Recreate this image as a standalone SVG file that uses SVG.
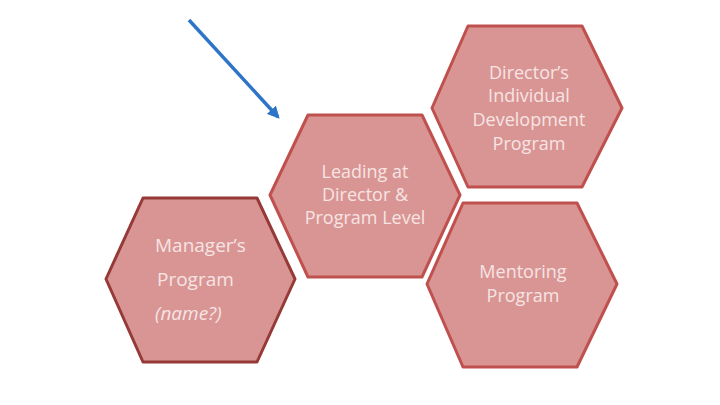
<svg xmlns="http://www.w3.org/2000/svg" width="720" height="405" viewBox="0 0 720 405">
<defs>
<marker id="ah" viewBox="0 0 10 10" refX="8" refY="5" markerWidth="3.5" markerHeight="3.5" orient="auto">
<path d="M0,0 L10,5 L0,10 z" fill="#2e75c9"/>
</marker>
<style>
.hex{fill:#d99594;stroke-width:3;stroke-linejoin:round}
.t{font-family:"Open Sans","Liberation Sans",sans-serif;font-size:18px;fill:#f6e4e3}
.m{font-size:19px}
.c{text-anchor:middle}
</style>
</defs>
<rect width="720" height="405" fill="#ffffff"/>
<g id="managers">
<polygon class="hex" stroke="#963a38" points="143,198 257,198 295,279 257,362 143,362 106,279"/>
<text class="t m" x="155" y="252">Manager’s</text>
<text class="t m" x="157" y="286">Program</text>
<text class="t m" x="155" y="320" font-style="italic">(name?)</text>
</g>
<g id="leading">
<polygon class="hex" stroke="#c0504d" points="308,115 422,115 460,195 422,277 308,277 270,195"/>
<text class="t c" x="365" y="178">Leading at</text>
<text class="t c" x="365" y="201">Director &amp;</text>
<text class="t c" x="365" y="224">Program Level</text>
</g>
<g id="directors">
<polygon class="hex" stroke="#c0504d" points="468,26 582,26 622,108 582,187 468,187 432,108"/>
<text class="t c" x="529" y="79">Director’s</text>
<text class="t c" x="529" y="102">Individual</text>
<text class="t c" x="529" y="126">Development</text>
<text class="t c" x="529" y="150">Program</text>
</g>
<g id="mentoring">
<polygon class="hex" stroke="#c0504d" points="463,203 577,203 617,284 577,367 463,367 427,284"/>
<text class="t c" x="523" y="278">Mentoring</text>
<text class="t c" x="523" y="302">Program</text>
</g>
<g id="connectors">
<line x1="189" y1="20" x2="278" y2="117" stroke="#2e75c9" stroke-width="3.5" marker-end="url(#ah)"/>
</g>
</svg>
